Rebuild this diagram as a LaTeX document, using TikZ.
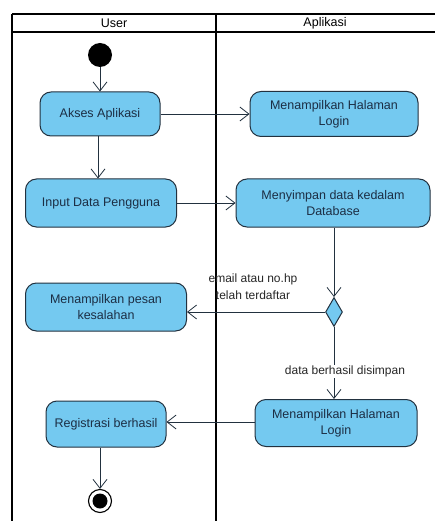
\documentclass[tikz,border=0pt]{standalone}
\usepackage{fontspec}
\setmainfont{Liberation Sans}
\usetikzlibrary{arrows.meta,shapes.geometric,calc}
\definecolor{actfill}{HTML}{74C9F0}
\definecolor{actline}{HTML}{22313F}
\definecolor{acttext}{HTML}{1C2E44}
\tikzset{
  action/.style={draw=actline, fill=actfill, rounded corners=11pt, line width=1pt,
    text=acttext, align=center, inner sep=0pt,
    font=\fontsize{12.5}{16}\selectfont},
  flow/.style={draw=actline, line width=0.8pt,
    -{Straight Barb[length=9pt,width=14pt,line width=0.8pt]}},
  lane/.style={draw=black, line width=1.2pt},
  guard/.style={font=\fontsize{12}{17}\selectfont, text=black!85, align=center, inner sep=1pt},
}
\begin{document}
\begin{tikzpicture}[x=1pt,y=-1pt]
\useasboundingbox (0,0) rectangle (434,521);
% swimlane frame
\draw[lane] (12,14) -- (440,14);
\draw[lane] (12,32) -- (440,32);
\draw[lane] (12,14) -- (12,530);
\draw[draw=black, line width=2pt] (216,14) -- (216,530);
\node[font=\fontsize{12.5}{13}\selectfont] (laneuser) at (114,23) {User};
\node[font=\fontsize{12.5}{13}\selectfont] (laneapp) at (325,23) {Aplikasi};

% start and end
\node[circle, fill=black, minimum size=24pt, inner sep=0pt] (start) at (100,55) {};
\node[circle, draw=black, fill=white, line width=1.1pt, minimum size=23pt, inner sep=0pt] (end) at (100,501) {};
\node[circle, fill=black, minimum size=15pt, inner sep=0pt] (endin) at (100,501) {};

% activities
\node[action, minimum width=120pt, minimum height=44pt] (akses) at (100,114) {Akses Aplikasi};
\node[action, minimum width=168pt, minimum height=45pt] (login1) at (334,114) {Menampilkan Halaman\\Login};
\node[action, minimum width=151pt, minimum height=48pt] (input) at (101,203) {Input Data Pengguna};
\node[action, minimum width=194pt, minimum height=48pt] (simpan) at (333,203) {Menyimpan data kedalam\\Database};
\node[diamond, draw=actline, fill=actfill, line width=1pt, minimum width=17pt, minimum height=29pt, inner sep=0pt, aspect=0.6] (dec) at (334,312) {};
\node[action, minimum width=161pt, minimum height=48pt] (pesan) at (106,307) {Menampilkan pesan\\kesalahan};
\node[action, minimum width=162pt, minimum height=47pt] (login2) at (336,423) {Menampilkan Halaman\\Login};
\node[action, minimum width=120pt, minimum height=46pt] (reg) at (106,424) {Registrasi berhasil};

% flows
\draw[flow] (start) -- (akses);
\draw[flow] (akses) -- (login1);
\draw[flow] (akses.south -| 98,0) -- (input.north -| 98,0);
\draw[flow] (input) -- (simpan);
\draw[flow] (simpan.south -| dec) -- (dec.north);
\draw[flow] (dec.west) -- (dec.west -| pesan.east);
\node[guard] (lblfail) at (253,287) {email atau no.hp\\telah terdaftar};
\draw[flow] (dec.south) -- (login2.north -| dec)
  node[guard, pos=0.62, fill=white, xshift=11pt] (lblok) {data berhasil disimpan};
\draw[flow] (login2.west |- 0,422) -- (reg.east |- 0,422);
\draw[flow] (reg.south -| end) -- (end.north);
\end{tikzpicture}
\end{document}
